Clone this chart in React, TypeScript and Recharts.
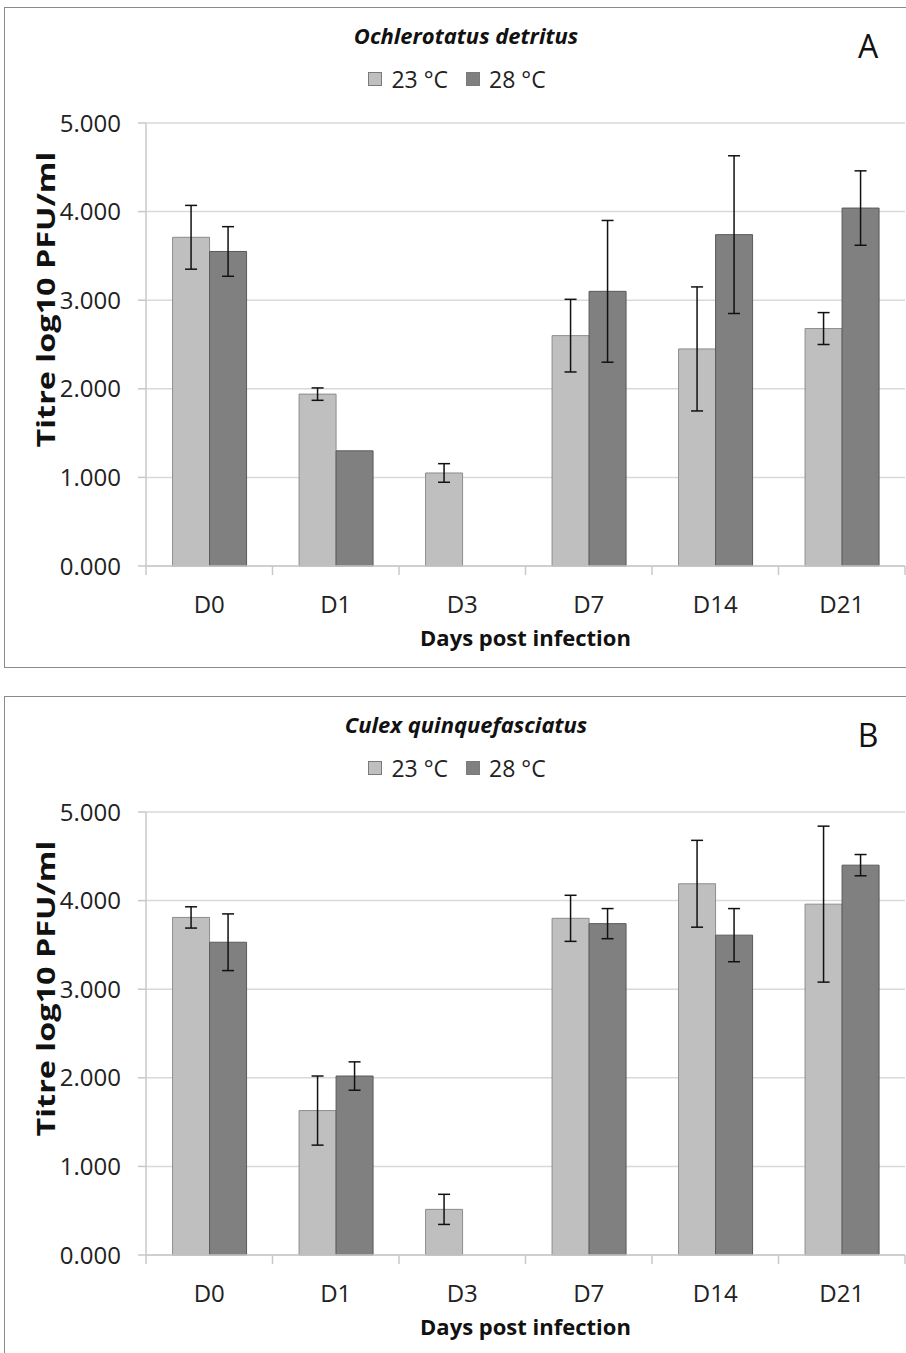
import React from 'react';
import { BarChart, Bar, XAxis, YAxis, CartesianGrid, ErrorBar, Legend } from 'recharts';

const days = ['D0', 'D1', 'D3', 'D7', 'D14', 'D21'];
const yTicks = [0, 1, 2, 3, 4, 5];

// Ochlerotatus detritus
const aMean23 = [3.71, 1.94, 1.05, 2.6, 2.45, 2.68];
const aErr23 = [0.36, 0.07, 0.105, 0.41, 0.7, 0.18];
const aMean28 = [3.55, 1.3, null, 3.1, 3.74, 4.04];
const aErr28 = [0.28, null, null, 0.8, 0.89, 0.42];

// Culex quinquefasciatus
const bMean23 = [3.81, 1.63, 0.515, 3.8, 4.19, 3.96];
const bErr23 = [0.12, 0.39, 0.17, 0.26, 0.49, 0.88];
const bMean28 = [3.53, 2.02, null, 3.74, 3.61, 4.4];
const bErr28 = [0.32, 0.16, null, 0.17, 0.3, 0.12];

const FONT = '"Open Sans", "Noto Sans", sans-serif';
const TICK_GAP = 28;
const LIGHT = '#bfbfbf';
const DARK = '#808080';

const DayTick = (props: any) => {
  const { x, y, payload, index, visibleTicksCount } = props;
  const half = payload?.offset ?? 0;
  const y0 = y - TICK_GAP;
  return (
    <g>
      <line x1={x - half} x2={x - half} y1={y0} y2={y0 + 9} stroke="#c8c8c8" strokeWidth={1.5} />
      {index === visibleTicksCount - 1 && (
        <line x1={x + half} x2={x + half} y1={y0} y2={y0 + 9} stroke="#c8c8c8" strokeWidth={1.5} />
      )}
      <text x={x} y={y0 + 37} textAnchor="middle" dominantBaseline="central" fontSize={24} fill="#222" fontFamily={FONT}>
        {payload.value}
      </text>
    </g>
  );
};

const LegendBox = (props: any) => (
  <div style={{ display: 'flex', justifyContent: 'center', alignItems: 'center', paddingLeft: 26, fontFamily: FONT, fontSize: 23, color: '#222', height: 32 }}>
    {(props.payload || []).map((p: any) => (
      <div key={p.value} style={{ display: 'flex', alignItems: 'center', marginRight: 18 }}>
        <span style={{ width: 12, height: 12, background: p.color, border: '1px solid #7a7a7a', marginRight: 9 }} />
        <span>{p.value}</span>
      </div>
    ))}
  </div>
);

type PanelProps = {
  top: number;
  title: string;
  letter: string;
  m23: (number | null)[];
  e23: (number | null)[];
  m28: (number | null)[];
  e28: (number | null)[];
};

const Panel = ({ top, title, letter, m23, e23, m28, e28 }: PanelProps) => {
  const rows = days.map((d, i) => ({ day: d, m23: m23[i], e23: e23[i], m28: m28[i], e28: e28[i] }));
  return (
    <div style={{ position: 'absolute', left: 0, top, width: 906, height: 660 }}>
      <div style={{ position: 'absolute', left: 4, top: 7, width: 910, height: 661, border: '1.5px solid #8a8a8a', boxSizing: 'border-box' }} />
      <div style={{ position: 'absolute', left: 0, width: 932, top: 20, textAlign: 'center', fontFamily: FONT, fontSize: 22, fontWeight: 700, fontStyle: 'italic', lineHeight: '30px', color: '#111' }}>
        {title}
      </div>
      <div style={{ position: 'absolute', left: 848, top: 24, width: 40, textAlign: 'center', fontFamily: FONT, fontSize: 32, lineHeight: '44px', color: '#111' }}>
        {letter}
      </div>
      <div style={{ position: 'absolute', left: 0, top: 0 }}>
        <BarChart width={906} height={660} data={rows} margin={{ top: 91, right: 1, left: 0, bottom: 0 }} barCategoryGap="21%" barGap={0}>
          <CartesianGrid vertical={false} stroke="#d9d9d9" strokeWidth={1.5} />
          <XAxis
            dataKey="day"
            height={94}
            tickLine={false}
            tickSize={0}
            tickMargin={TICK_GAP}
            axisLine={{ stroke: '#c8c8c8', strokeWidth: 1.5 }}
            tick={<DayTick />}
            interval={0}
            label={{
              content: (p: any) => (
                <text x={p.viewBox.x + p.viewBox.width / 2} y={p.viewBox.y + 71} textAnchor="middle" dominantBaseline="central" fontSize={22} fontWeight={700} fill="#111" fontFamily={FONT}>
                  Days post infection
                </text>
              ),
            }}
          />
          <YAxis
            width={146}
            domain={[0, 5]}
            ticks={yTicks}
            tickFormatter={(v: number) => v.toFixed(3)}
            tickSize={8}
            tickMargin={17}
            tickLine={{ stroke: '#c8c8c8', strokeWidth: 1.5 }}
            axisLine={{ stroke: '#c8c8c8', strokeWidth: 1.5 }}
            tick={{ fontSize: 24, fill: '#222', fontFamily: FONT }}
            label={{
              content: (p: any) => {
                const cx = p.viewBox.x + 45;
                const cy = p.viewBox.y + p.viewBox.height / 2 - 45;
                return (
                  <text x={cx} y={cy} transform={`rotate(-90 ${cx} ${cy})`} textAnchor="middle" dominantBaseline="central" fontSize={25} fontWeight={700} fill="#111" fontFamily={FONT} textLength={296} lengthAdjust="spacingAndGlyphs">
                    Titre log10 PFU/ml
                  </text>
                );
              },
            }}
          />
          <Legend verticalAlign="top" height={32} content={<LegendBox />} wrapperStyle={{ top: 63, left: 0, width: 906 }} />
          <Bar dataKey="m23" name="23 °C" fill={LIGHT} stroke="#8c8c8c" strokeWidth={1} isAnimationActive={false}>
            <ErrorBar dataKey="e23" width={6} stroke="#111" strokeWidth={1.5} />
          </Bar>
          <Bar dataKey="m28" name="28 °C" fill={DARK} stroke="#5a5a5a" strokeWidth={1} isAnimationActive={false}>
            <ErrorBar dataKey="e28" width={6} stroke="#111" strokeWidth={1.5} />
          </Bar>
        </BarChart>
      </div>
    </div>
  );
};

export default function App() {
  return (
    <div style={{ position: 'absolute', left: 0, top: 0, width: 906, height: 1353, overflow: 'hidden', background: '#fff' }}>
      <Panel top={0} title="Ochlerotatus detritus" letter="A" m23={aMean23} e23={aErr23} m28={aMean28} e28={aErr28} />
      <Panel top={689} title="Culex quinquefasciatus" letter="B" m23={bMean23} e23={bErr23} m28={bMean28} e28={bErr28} />
    </div>
  );
}
